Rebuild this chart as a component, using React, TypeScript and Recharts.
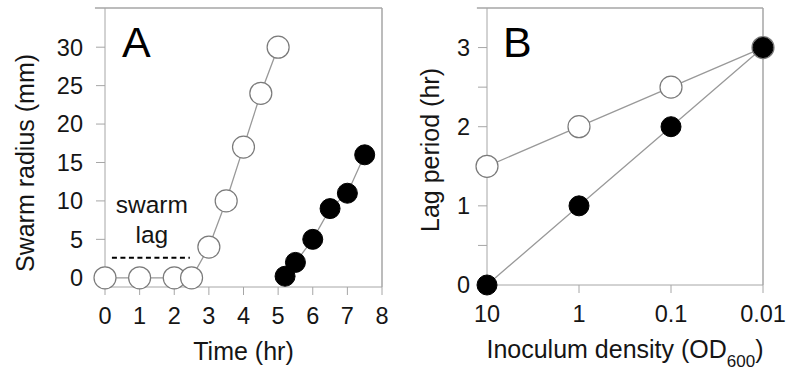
import React from "react"
import { LineChart, Line, XAxis, YAxis, ReferenceLine, Label } from "recharts"

// Panel A: swarm radius over time
const timeOpen = [0, 1, 2, 2.5, 3, 3.5, 4, 4.5, 5]
const radiusOpen = [0, 0, 0, 0, 4, 10, 17, 24, 30]
const timeFilled = [5.2, 5.5, 6, 6.5, 7, 7.5]
const radiusFilled = [0.2, 2, 5, 9, 11, 16]
const timeTicks = [0, 1, 2, 3, 4, 5, 6, 7, 8]
const radiusTicks = [0, 5, 10, 15, 20, 25, 30]

// Panel B: lag period vs inoculum density
const densityLabels = ["10", "1", "0.1", "0.01"]
const lagOpen = [1.5, 2, 2.5, 3]
const lagFilled = [0, 1, 2, 3]
const lagTicks = [0, 0.5, 1, 1.5, 2, 2.5, 3]

const GREY = "#a6a6a6"
const INK = "#151515"

const openA = timeOpen.map((x, i) => ({ x, y: radiusOpen[i] }))
const filledA = timeFilled.map((x, i) => ({ x, y: radiusFilled[i] }))
const openB = lagOpen.map((y, i) => ({ x: i, y }))
const filledB = lagFilled.map((y, i) => ({ x: i, y }))

const openDot = { r: 11, fill: "#fff", stroke: "#7a7a7a", strokeWidth: 1.2 }
const filledDot = { r: 10, fill: "#000", stroke: "#000", strokeWidth: 1 }

const XTitle = ({ viewBox, y, children }: any) => (
  <text x={viewBox.x + viewBox.width / 2} y={y} textAnchor="middle" fontSize={25} fill={INK}>
    {children}
  </text>
)

const YTitle = ({ cx, cy, text }: any) => (
  <text
    x={cx}
    y={cy}
    textAnchor="middle"
    dominantBaseline="central"
    fontSize={25}
    fill={INK}
    transform={`rotate(-90, ${cx}, ${cy})`}
  >
    {text}
  </text>
)

// drawn from the top border segment, which starts a little left of the y axis
const PanelLetter = ({ viewBox, letter, dx }: any) => (
  <text x={viewBox.x + dx} y={viewBox.y + 49} fontSize={43} fill="#000">
    {letter}
  </text>
)

const SwarmLagLabel = ({ viewBox }: any) => {
  const cx = viewBox.x + viewBox.width / 2 + 1
  return (
    <g>
      <text x={cx} y={viewBox.y - 45} textAnchor="middle" fontSize={24.5} fill={INK}>swarm</text>
      <text x={cx} y={viewBox.y - 15} textAnchor="middle" fontSize={24.5} fill={INK}>lag</text>
    </g>
  )
}

const tickStyle = { fill: INK, fontSize: 23.5 }

const App = () => {
  return (
    <div
      style={{
        position: "absolute",
        left: 0,
        top: 0,
        width: 787,
        height: 376,
        background: "#fff",
        fontFamily: 'Arial, "Liberation Sans", sans-serif',
      }}
    >
      <div style={{ position: "absolute", left: 0, top: 0 }}>
        <LineChart width={400} height={376} margin={{ top: 8, right: 18, left: 0, bottom: 0 }}>
          <XAxis
            dataKey="x"
            type="number"
            domain={[0, 8]}
            ticks={timeTicks}
            height={89}
            tickSize={8}
            tickMargin={12}
            tick={tickStyle}
            axisLine={{ stroke: GREY }}
            tickLine={{ stroke: GREY }}
          >
            <Label content={(p: any) => <XTitle viewBox={p.viewBox} y={360}>Time (hr)</XTitle>} />
          </XAxis>
          <YAxis
            dataKey="y"
            type="number"
            domain={[-1.2, 35.1]}
            ticks={radiusTicks}
            width={105}
            tickSize={9}
            tickMargin={13}
            tick={tickStyle}
            axisLine={{ stroke: GREY }}
            tickLine={{ stroke: GREY }}
          >
            <Label content={() => <YTitle cx={25} cy={163} text="Swarm radius (mm)" />} />
          </YAxis>
          <ReferenceLine
            segment={[{ x: -0.29, y: 35.1 }, { x: 8, y: 35.1 }]}
            stroke={GREY}
            strokeWidth={1.5}
            ifOverflow="visible"
            label={(p: any) => <PanelLetter viewBox={p.viewBox} letter="A" dx={27} />}
          />
          <ReferenceLine x={8} stroke={GREY} strokeWidth={1.5} />
          <ReferenceLine
            segment={[{ x: 0.2, y: 2.6 }, { x: 2.45, y: 2.6 }]}
            stroke="#000"
            strokeWidth={2}
            strokeDasharray="5 3.5"
            label={<SwarmLagLabel />}
          />
          <Line
            data={openA}
            dataKey="y"
            type="linear"
            stroke="#999"
            strokeWidth={1.3}
            dot={openDot}
            activeDot={false}
            isAnimationActive={false}
          />
          <Line
            data={filledA}
            dataKey="y"
            type="linear"
            stroke="#999"
            strokeWidth={1.3}
            dot={filledDot}
            activeDot={false}
            isAnimationActive={false}
          />
        </LineChart>
      </div>

      <div style={{ position: "absolute", left: 390, top: 0 }}>
        <LineChart width={397} height={376} margin={{ top: 8, right: 24, left: 0, bottom: 0 }}>
          <XAxis
            dataKey="x"
            type="number"
            domain={[0, 3]}
            ticks={[0, 1, 2, 3]}
            tickFormatter={(v: number) => densityLabels[v]}
            height={91}
            tickSize={8}
            tickMargin={12}
            tick={tickStyle}
            axisLine={{ stroke: GREY }}
            tickLine={{ stroke: GREY }}
          >
            <Label
              content={(p: any) => (
                <XTitle viewBox={p.viewBox} y={358}>
                  Inoculum density (OD<tspan fontSize={17} dy={9}>600</tspan>
                  <tspan dy={-9}>)</tspan>
                </XTitle>
              )}
            />
          </XAxis>
          <YAxis
            dataKey="y"
            type="number"
            domain={[0, 3.5]}
            ticks={lagTicks}
            tickFormatter={(v: number) => (Number.isInteger(v) ? String(v) : "")}
            width={97}
            tickSize={9}
            tickMargin={8}
            tick={tickStyle}
            axisLine={{ stroke: GREY }}
            tickLine={{ stroke: GREY }}
          >
            <Label content={() => <YTitle cx={40} cy={150} text="Lag period (hr)" />} />
          </YAxis>
          <ReferenceLine
            segment={[{ x: -0.11, y: 3.5 }, { x: 3, y: 3.5 }]}
            stroke={GREY}
            strokeWidth={1.5}
            ifOverflow="visible"
            label={(p: any) => <PanelLetter viewBox={p.viewBox} letter="B" dx={26} />}
          />
          <ReferenceLine x={3} stroke={GREY} strokeWidth={1.5} />
          <Line
            data={openB}
            dataKey="y"
            type="linear"
            stroke="#999"
            strokeWidth={1.3}
            dot={openDot}
            activeDot={false}
            isAnimationActive={false}
          />
          <Line
            data={filledB}
            dataKey="y"
            type="linear"
            stroke="#999"
            strokeWidth={1.3}
            dot={filledDot}
            activeDot={false}
            isAnimationActive={false}
          />
        </LineChart>
      </div>
    </div>
  )
}

export default App
